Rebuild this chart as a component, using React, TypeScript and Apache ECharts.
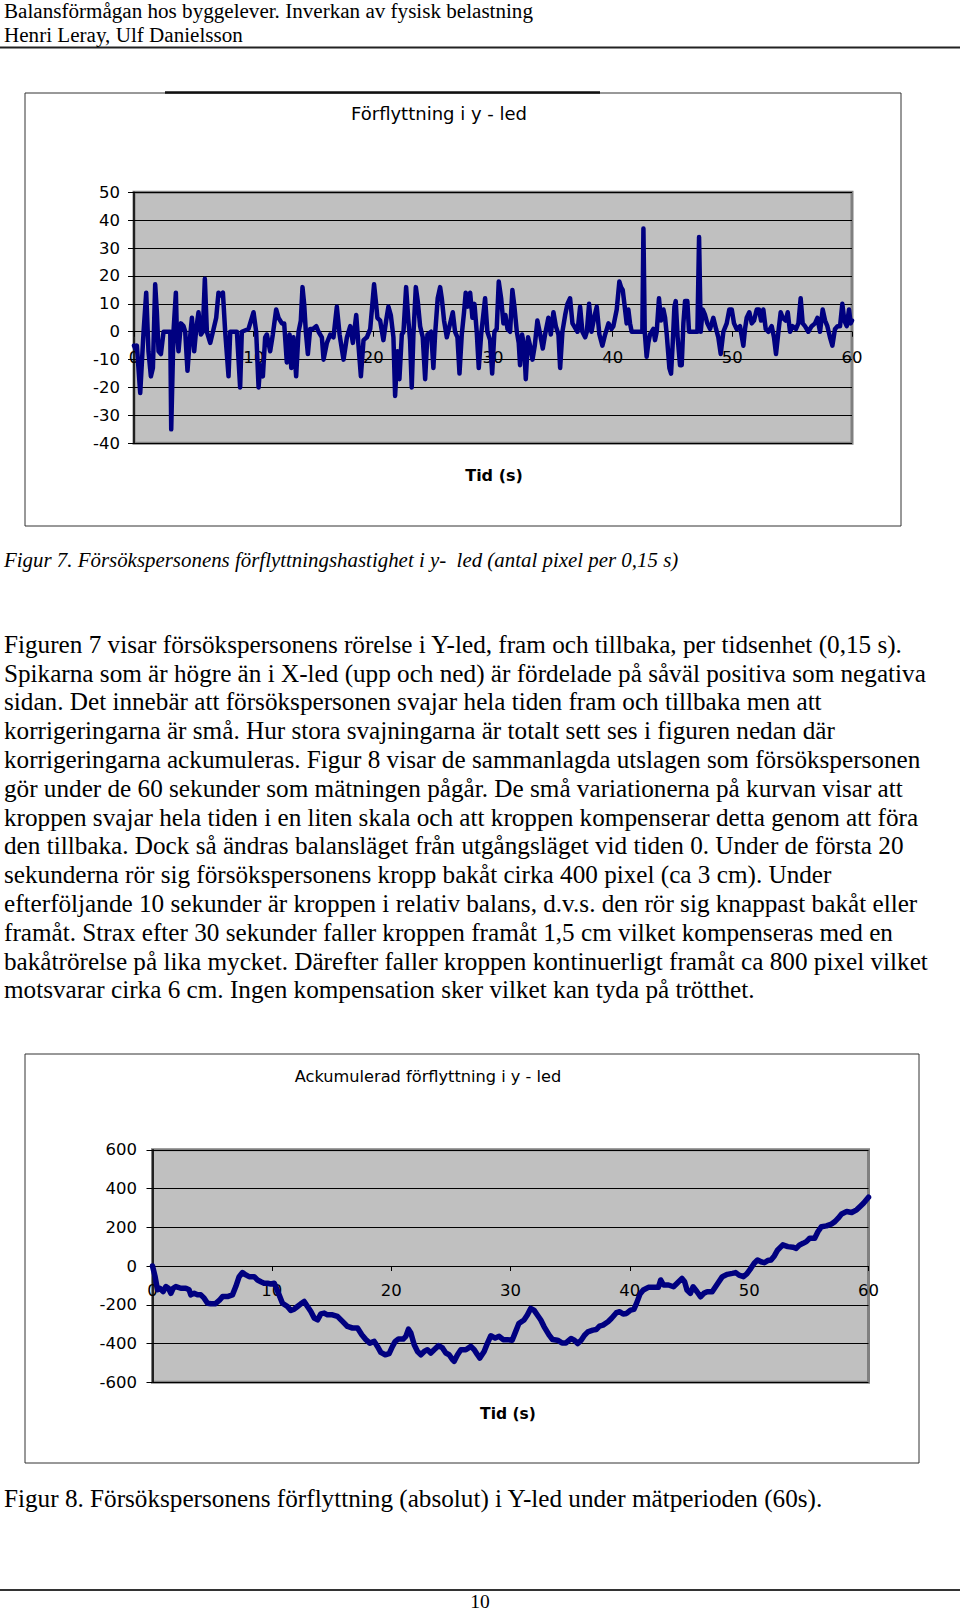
import React, { useEffect, useRef } from "react";
import * as echarts from "echarts";

// ---------- texts ----------
const HEADER_LINES = [
  "Balansförmågan hos byggelever. Inverkan av fysisk belastning",
  "Henri Leray, Ulf Danielsson",
];
const CHART1_TITLE = "Förflyttning i y - led";
const CHART2_TITLE = "Ackumulerad förflyttning i y - led";
const X_NAME = "Tid (s)";
const CAPTION7 = "Figur 7. Försökspersonens förflyttningshastighet i y-  led (antal pixel per 0,15 s)";
const BODY_LINES = [
  "Figuren 7 visar försökspersonens rörelse i Y-led, fram och tillbaka, per tidsenhet (0,15 s).",
  "Spikarna som är högre än i X-led (upp och ned) är fördelade på såväl positiva som negativa",
  "sidan. Det innebär att försökspersonen svajar hela tiden fram och tillbaka men att",
  "korrigeringarna är små. Hur stora svajningarna är totalt sett ses i figuren nedan där",
  "korrigeringarna ackumuleras. Figur 8 visar de sammanlagda utslagen som försökspersonen",
  "gör under de 60 sekunder som mätningen pågår. De små variationerna på kurvan visar att",
  "kroppen svajar hela tiden i en liten skala och att kroppen kompenserar detta genom att föra",
  "den tillbaka. Dock så ändras balansläget från utgångsläget vid tiden 0. Under de första 20",
  "sekunderna rör sig försökspersonens kropp bakåt cirka 400 pixel (ca 3 cm). Under",
  "efterföljande 10 sekunder är kroppen i relativ balans, d.v.s. den rör sig knappast bakåt eller",
  "framåt. Strax efter 30 sekunder faller kroppen framåt 1,5 cm vilket kompenseras med en",
  "bakåtrörelse på lika mycket. Därefter faller kroppen kontinuerligt framåt ca 800 pixel vilket",
  "motsvarar cirka 6 cm. Ingen kompensation sker vilket kan tyda på trötthet.",
];
const CAPTION8 = "Figur 8. Försökspersonens förflyttning (absolut) i Y-led under mätperioden (60s).";
const PAGE_NO = "10";

// ---------- axis ranges ----------
const TIME_AXIS = { min: 0, max: 60, interval: 10 };
const VEL_AXIS = { min: -40, max: 50, interval: 10 };
const ACC_AXIS = { min: -600, max: 600, interval: 200 };

// ---------- Figur 7: velocity (pixel per 0.15 s) [time s, value] ----------
const VEL_0_20: [number, number][] = [
  [0, -5], [0.1, -6], [0.24, -5], [0.52, -22], [0.8, 0], [1.02, 14], [1.21, -7], [1.41, -16], [1.58, -13],
  [1.77, 17], [1.91, 7], [2.05, -7], [2.25, -8], [2.47, 0], [3.03, 0], [3.11, -35], [3.3, 0], [3.5, 14],
  [3.58, 0], [3.72, -7], [3.92, 3], [4.14, 2], [4.28, 0], [4.47, -14], [4.64, -4], [4.84, 5], [5.03, -7],
  [5.2, 1], [5.39, 7], [5.59, -1], [5.75, 0], [5.92, 19], [6.09, 0], [6.37, -4], [6.65, 1], [6.87, 5],
  [7.06, 14], [7.2, 13], [7.43, 14], [7.62, 0], [7.9, -16], [8.04, 0], [8.6, 0], [8.87, -20], [9.01, 0],
  [9.57, 1], [9.99, 7], [10.21, 0], [10.41, -20], [10.55, -12], [10.77, -16], [10.96, -2], [11.1, -1],
  [11.38, -7], [11.6, -1], [11.88, 8], [12.08, 5], [12.36, 3], [12.55, 3], [12.77, -11], [13.0, -1],
  [13.14, -13], [13.33, -2], [13.55, -16], [13.75, 0], [13.94, 4], [14.08, 16], [14.22, 10], [14.36, 0],
  [14.53, -8], [14.72, 1], [14.95, 1], [15.23, 2], [15.42, 0], [15.7, -2], [15.84, -10], [16.12, -4],
  [16.4, -1], [16.67, -2], [16.95, 9], [17.18, -1], [17.51, -10], [17.79, -2], [18.07, 2], [18.29, -4],
  [18.57, 6], [18.76, -5], [18.96, -16], [19.18, -3], [19.46, -2], [19.74, 1],
];
const VEL_20_40: [number, number][] = [
  [20.06, 17], [20.23, 10], [20.34, 5], [20.57, 4], [20.84, -3], [21.07, 4], [21.26, 9], [21.46, 6],
  [21.68, -2], [21.82, -23], [22.01, -7], [22.18, -17], [22.38, -1], [22.52, 0], [22.74, 16], [22.93, 4],
  [23.07, -3], [23.21, -20], [23.35, -1], [23.55, 16], [23.71, 11], [23.91, 2], [24.13, -2], [24.33, -17],
  [24.52, -1], [24.83, 0], [25.02, -13], [25.16, -1], [25.38, 12], [25.58, 16], [25.72, 12], [25.91, 4],
  [26.14, -2], [26.36, 2], [26.64, 7], [26.83, 0], [27.03, -2], [27.2, -15], [27.39, -1], [27.58, 7],
  [27.72, 14], [27.89, 9], [28.09, 14], [28.28, 5], [28.45, 10], [28.64, 0], [28.81, -13], [29.01, -1],
  [29.34, 12], [29.53, 0], [29.76, -3], [29.93, -15], [30.12, 0], [30.31, 1], [30.48, 18], [30.68, 12],
  [30.87, 3], [31.04, 6], [31.21, 1], [31.43, 0], [31.62, 15], [31.79, 9], [31.99, 0], [32.15, -4],
  [32.26, -12], [32.43, -1], [32.6, -5], [32.74, -17], [32.93, -2], [33.1, -5], [33.3, -10], [33.49, -5],
  [33.71, 4], [33.94, -1], [34.16, -6], [34.35, -1], [34.63, 5], [34.83, -1], [35.05, 7], [35.25, 2],
  [35.47, -1], [35.61, -13], [35.8, 0], [36.03, 6], [36.22, 10], [36.44, 12], [36.64, 3], [37.06, 0],
  [37.28, 9], [37.47, 0], [37.7, -2], [37.84, 0], [38.03, 10], [38.23, 0], [38.45, 5], [38.67, 9],
  [38.89, -1], [39.14, -5], [39.37, -1], [39.65, 3], [39.9, 1],
];
const VEL_40_60: [number, number][] = [
  [40.06, 2], [40.34, 8], [40.56, 18], [40.7, 16], [40.84, 15], [40.98, 10], [41.17, 3], [41.31, 8],
  [41.45, 3], [41.59, 0], [42.29, 0], [42.48, 0], [42.57, 37], [42.68, 0], [42.84, -9], [42.98, -4],
  [43.12, -1], [43.4, 1], [43.54, -3], [43.68, 0], [43.87, 12], [44.04, 4], [44.24, 8], [44.38, 5],
  [44.52, -1], [44.74, -13], [44.88, -15], [45.02, -4], [45.16, 9], [45.27, 11], [45.43, -2], [45.63, -12],
  [45.77, -12], [45.91, 3], [46.05, 11], [46.24, 11], [46.38, 0], [47.08, 0], [47.22, 34], [47.36, 0],
  [47.52, 8], [47.72, 6], [47.91, 3], [48.14, 1], [48.41, 5], [48.64, 1], [48.83, -2], [49.03, -8],
  [49.25, 0], [49.53, 3], [49.75, 8], [49.95, 8], [50.14, 3], [50.36, 1], [50.64, 2], [50.92, -5],
  [51.06, 1], [51.2, 5], [51.42, 7], [51.62, 3], [51.81, 4], [52.04, 8], [52.23, 8], [52.4, 4],
  [52.59, 8], [52.79, 1], [53.01, 0], [53.29, 2], [53.48, -2], [53.65, -8], [53.85, 0], [54.04, 7],
  [54.21, 5], [54.46, 4], [54.63, 7], [54.82, 0], [55.04, 2], [55.32, 1], [55.52, 3], [55.71, 12],
  [55.88, 3], [56.07, 2], [56.35, 0], [56.63, 2], [56.91, 3], [57.11, 5], [57.33, 0], [57.55, 8],
  [57.75, 4], [57.94, 2], [58.16, -2], [58.36, -5], [58.58, 1], [58.8, 2], [59.0, 2], [59.19, 10],
  [59.36, 4], [59.56, 2], [59.75, 8], [59.89, 3], [60.0, 4],
];

// ---------- Figur 8: accumulated displacement [time s, pixel] ----------
const ACC_0_20: [number, number][] = [
  [0, 0], [0.22, -55], [0.42, -123], [0.61, -115], [0.89, -132], [1.12, -106], [1.34, -115], [1.54, -141],
  [1.73, -115], [1.96, -106], [2.37, -115], [2.79, -115], [3.07, -123], [3.21, -149], [3.49, -141],
  [3.77, -149], [4.05, -149], [4.33, -166], [4.61, -192], [4.89, -195], [5.25, -195], [5.59, -178],
  [5.87, -158], [6.28, -158], [6.7, -149], [6.98, -106], [7.26, -55], [7.54, -34], [7.82, -46],
  [8.1, -55], [8.52, -55], [8.8, -72], [9.08, -81], [9.36, -89], [9.64, -89], [9.92, -93], [10.2, -89],
  [10.39, -115], [10.61, -149], [10.89, -192], [11.31, -209], [11.59, -230], [11.87, -223], [12.15, -209],
  [12.43, -195], [12.71, -183], [12.99, -209], [13.27, -235], [13.55, -269], [13.83, -278], [14.11, -247],
  [14.39, -243], [14.66, -252], [15.08, -252], [15.5, -260], [15.92, -286], [16.34, -312], [16.76, -320],
  [17.18, -320], [17.54, -355], [17.88, -380], [18.21, -398], [18.58, -389], [18.85, -415], [19.13, -446],
  [19.5, -458], [19.83, -452],
];
const ACC_20_40: [number, number][] = [
  [20.11, -415], [20.34, -389], [20.61, -377], [21.01, -377], [21.23, -363], [21.45, -326], [21.65, -346],
  [21.93, -406], [22.21, -441], [22.49, -458], [22.77, -441], [23.04, -432], [23.32, -449], [23.6, -432],
  [23.97, -411], [24.3, -423], [24.58, -449], [24.86, -458], [25.14, -483], [25.28, -492], [25.56, -458],
  [25.84, -432], [26.26, -432], [26.68, -415], [26.96, -432], [27.23, -458], [27.43, -475], [27.79, -441],
  [28.07, -398], [28.35, -360], [28.72, -372], [29.05, -363], [29.39, -380], [29.75, -380], [30.14, -383],
  [30.42, -340], [30.7, -297], [31.13, -279], [31.41, -253], [31.69, -219], [31.97, -228], [32.25, -253],
  [32.54, -279], [32.82, -314], [33.24, -357], [33.52, -379], [33.94, -383], [34.31, -397], [34.65, -397],
  [35.07, -374], [35.35, -383], [35.63, -400], [35.92, -383], [36.2, -357], [36.48, -340], [36.9, -331],
  [37.18, -328], [37.46, -310], [37.75, -305], [38.17, -288], [38.45, -271], [38.87, -241], [39.15, -236],
  [39.44, -248], [39.72, -245],
];
const ACC_40_60: [number, number][] = [
  [40.06, -228], [40.34, -224], [40.56, -193], [40.85, -145], [41.13, -124], [41.55, -110], [41.97, -110],
  [42.39, -110], [42.59, -72], [42.82, -98], [43.24, -98], [43.66, -107], [43.94, -90], [44.37, -64],
  [44.59, -81], [44.79, -124], [45.07, -141], [45.3, -107], [45.63, -133], [45.92, -159], [46.2, -141],
  [46.48, -133], [46.9, -133], [47.18, -107], [47.46, -81], [47.75, -55], [48.17, -43], [48.59, -38],
  [48.87, -34], [49.15, -47], [49.52, -55], [49.8, -41], [50.14, -12], [50.42, 14], [50.7, 31], [50.99, 22],
  [51.27, 17], [51.55, 28], [51.83, 31], [52.11, 52], [52.39, 83], [52.82, 109], [53.24, 100], [53.66, 97],
  [53.94, 91], [54.23, 109], [54.51, 117], [54.79, 126], [55.07, 143], [55.49, 143], [55.77, 178],
  [56.06, 203], [56.48, 207], [56.9, 217], [57.18, 229], [57.46, 247], [57.75, 269], [58.17, 281],
  [58.59, 276], [59.01, 290], [59.3, 307], [59.58, 324], [60.0, 355],
];

const SERIF = "'Liberation Serif', 'Times New Roman', serif";
const SANS = "'DejaVu Sans', Arial, sans-serif";
const NAVY = "#000080";

function txt(text: string, x: number, y: number, opts: any = {}) {
  return {
    type: "text",
    x,
    y,
    z: 100,
    style: {
      text,
      fill: "#000",
      fontSize: opts.fontSize ?? 20,
      fontFamily: opts.fontFamily ?? SERIF,
      fontStyle: opts.fontStyle ?? "normal",
      fontWeight: opts.fontWeight ?? "normal",
      align: opts.align ?? "left",
      verticalAlign: "middle",
    },
  };
}

function axisLabel(margin: number) {
  return { margin, fontSize: 16.5, fontFamily: SANS, color: "#000" };
}

// grid geometry (px)
const G1 = { left: 134, top: 192.3, width: 718, height: 251 };
const G2 = { left: 152.5, top: 1149.75, width: 716, height: 232.5 };

export default function App() {
  const ref = useRef<HTMLDivElement>(null);
  useEffect(() => {
    if (!ref.current) return;
    const chart = echarts.init(ref.current, undefined, { renderer: "svg" });

    const graphics: any[] = [];
    HEADER_LINES.forEach((t, i) => graphics.push(txt(t, 4, 11 + i * 24, { fontSize: 21.1 })));
    graphics.push({ type: "line", shape: { x1: 0, y1: 47.5, x2: 960, y2: 47.5 }, style: { stroke: "#222", lineWidth: 2 } });
    // chart 1 frame
    graphics.push({ type: "rect", shape: { x: 25, y: 93, width: 876, height: 433 }, style: { fill: "none", stroke: "#333", lineWidth: 1 } });
    graphics.push({ type: "line", shape: { x1: 165, y1: 92.5, x2: 600, y2: 92.5 }, style: { stroke: "#111", lineWidth: 2.5 } });
    graphics.push(txt(CHART1_TITLE, 439, 113, { fontFamily: SANS, fontSize: 18, align: "center" }));
    graphics.push(txt(X_NAME, 494, 475, { fontFamily: SANS, fontSize: 16, fontWeight: "bold", align: "center" }));
    graphics.push(txt(CAPTION7, 4, 560, { fontSize: 20.9, fontStyle: "italic" }));
    BODY_LINES.forEach((t, i) => graphics.push(txt(t, 4, 644.2 + i * 28.8, { fontSize: 25.2 })));
    // chart 2 frame
    graphics.push({ type: "rect", shape: { x: 25, y: 1054, width: 894, height: 409 }, style: { fill: "none", stroke: "#333", lineWidth: 1 } });
    graphics.push(txt(CHART2_TITLE, 428, 1076, { fontFamily: SANS, fontSize: 16.2, align: "center" }));
    graphics.push(txt(X_NAME, 508, 1414, { fontFamily: SANS, fontSize: 15.5, fontWeight: "bold", align: "center" }));
    graphics.push(txt(CAPTION8, 4, 1498, { fontSize: 25.2 }));
    graphics.push({ type: "line", shape: { x1: 0, y1: 1590, x2: 960, y2: 1590 }, style: { stroke: "#333", lineWidth: 2 } });
    graphics.push(txt(PAGE_NO, 480, 1601, { fontSize: 19.5, align: "center" }));

    const gridStyle = { show: true, backgroundColor: "#c0c0c0", borderColor: "#808080", borderWidth: 3 };

    // x axis drawn at value 0 of the y axis: offset from bottom edge computed from the y range
    const zeroOffset = (g: any, r: any) => -(g.height * (0 - r.min)) / (r.max - r.min);

    const xAxisCommon = (gridIndex: number, margin: number, offset: number) => ({
      gridIndex,
      type: "value",
      ...TIME_AXIS,
      position: "bottom",
      offset,
      axisLine: { show: true, onZero: false, lineStyle: { color: "#000", width: 1 } },
      axisTick: { show: true, length: 5, lineStyle: { color: "#000" } },
      axisLabel: axisLabel(margin),
      splitLine: { show: false },
    });
    const yAxisCommon = (gridIndex: number, range: any, margin: number) => ({
      gridIndex,
      type: "value",
      ...range,
      axisLine: { show: true, onZero: false, lineStyle: { color: "#000", width: 1.5 } },
      axisTick: { show: true, length: 6, lineStyle: { color: "#000" } },
      axisLabel: axisLabel(margin),
      splitLine: { show: true, lineStyle: { color: "#000", width: 1 } },
    });

    chart.setOption({
      animation: false,
      backgroundColor: "#fff",
      grid: [
        { ...gridStyle, ...G1 },
        { ...gridStyle, ...G2 },
      ],
      xAxis: [
        xAxisCommon(0, 17, zeroOffset(G1, VEL_AXIS)),
        xAxisCommon(1, 16, zeroOffset(G2, ACC_AXIS)),
      ],
      yAxis: [yAxisCommon(0, VEL_AXIS, 14), yAxisCommon(1, ACC_AXIS, 15.5)],
      series: [
        {
          type: "line",
          xAxisIndex: 0,
          yAxisIndex: 0,
          data: [...VEL_0_20, ...VEL_20_40, ...VEL_40_60],
          showSymbol: false,
          symbol: "none",
          lineStyle: { color: NAVY, width: 4.5, join: "round", cap: "round" },
          z: 3,
        },
        {
          type: "line",
          xAxisIndex: 1,
          yAxisIndex: 1,
          data: [...ACC_0_20, ...ACC_20_40, ...ACC_40_60],
          showSymbol: false,
          symbol: "none",
          lineStyle: { color: NAVY, width: 5.5, join: "round", cap: "round" },
          z: 3,
        },
      ],
      graphic: { elements: graphics },
    });
    return () => chart.dispose();
  }, []);

  return (
    <div
      ref={ref}
      style={{ position: "absolute", left: 0, top: 0, width: 960, height: 1613, background: "#fff" }}
    />
  );
}
